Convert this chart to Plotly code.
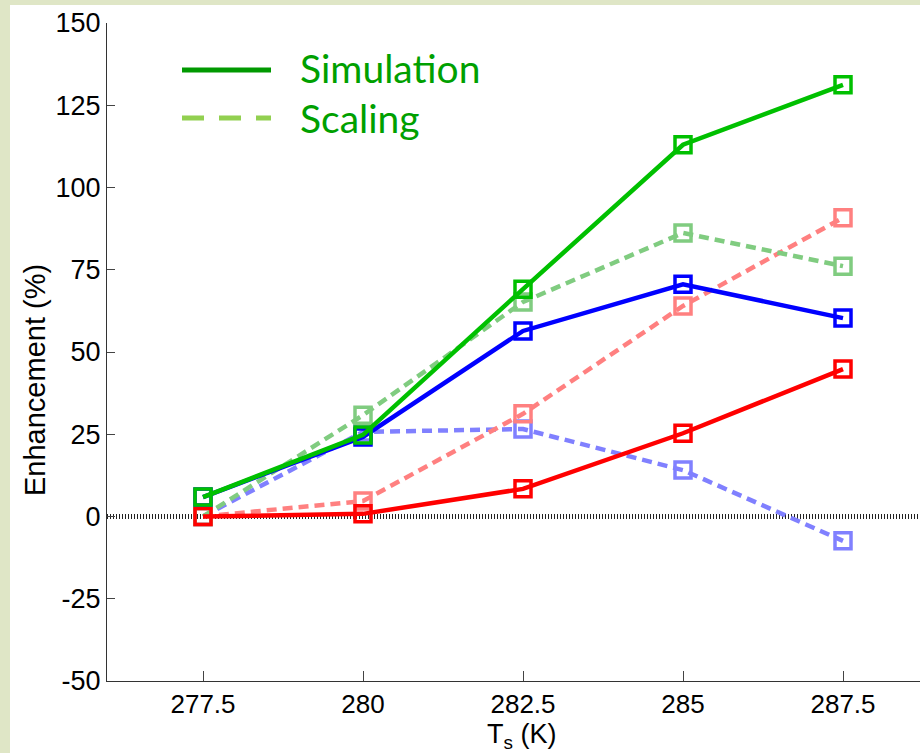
import plotly.graph_objects as go

ts = [277.5, 280, 282.5, 285, 287.5]
green_sim = [5.9, 24.8, 69.1, 113.0, 131.2]
green_scal = [0.0, 30.8, 65.2, 86.2, 76.1]
blue_sim = [5.9, 24.2, 56.4, 70.6, 60.3]
blue_scal = [0.0, 25.7, 26.6, 14.1, -7.4]
red_sim = [0.0, 0.8, 8.4, 25.3, 44.8]
red_scal = [0.0, 4.7, 31.2, 64.0, 90.8]

x_ticks = [277.5, 280, 282.5, 285, 287.5]
x_labels = ["277.5", "280", "282.5", "285", "287.5"]
y_ticks = [-50, -25, 0, 25, 50, 75, 100, 125, 150]
y_labels = ["-50", "-25", "0", "25", "50", "75", "100", "125", "150"]

W, H = 920, 753
ML, MR, MT, MB = 107, 0, 23, 72
PW, PH = W - ML - MR, H - MT - MB

def px(xp):
    return (xp - ML) / PW

def py(yp):
    return 1 - (yp - MT) / PH

fig = go.Figure()

series = [
    (blue_scal, "#8080ff", "10px,6px"),
    (red_scal, "#ff8080", "10px,6px"),
    (green_scal, "#80cc80", "10px,6px"),
    (red_sim, "#ff0000", "solid"),
    (blue_sim, "#0000ff", "solid"),
    (green_sim, "#00c000", "solid"),
]
for vals, col, dash in series:
    fig.add_trace(go.Scatter(
        x=ts, y=vals, mode="lines+markers",
        line=dict(color=col, width=4.5, dash=dash),
        marker=dict(symbol="square-open", size=16, color=col, line=dict(width=3.5, color=col)),
        showlegend=False, cliponaxis=False,
    ))

shapes = [
    dict(type="rect", xref="paper", yref="paper", x0=px(10), x1=px(930), y0=py(5), y1=py(760),
         fillcolor="white", line=dict(width=0), layer="below"),
    dict(type="line", xref="paper", yref="y", x0=0, x1=1, y0=0, y1=0,
         line=dict(color="#222222", width=5, dash="1px,2px"), layer="below"),
    dict(type="line", xref="paper", yref="paper", x0=px(182), x1=px(271), y0=py(70), y1=py(70),
         line=dict(color="#009900", width=5)),
    dict(type="line", xref="paper", yref="paper", x0=px(182), x1=px(271), y0=py(118), y1=py(118),
         line=dict(color="#92d050", width=5, dash="22px,15px")),
]

narrow = "Liberation Sans Narrow, Arial Narrow, Arial"
annotations = [
    dict(text="Simulation", xref="paper", yref="paper", x=px(298), y=py(68), xanchor="left",
         yanchor="middle", showarrow=False, font=dict(family="Lato, Open Sans", size=39, color="#00a000")),
    dict(text="Scaling", xref="paper", yref="paper", x=px(298), y=py(118), xanchor="left",
         yanchor="middle", showarrow=False, font=dict(family="Lato, Open Sans", size=39, color="#00a000")),
    dict(text="T<sub>s</sub> (K)", xref="paper", yref="paper", x=px(521), y=py(736), xanchor="center",
         yanchor="middle", showarrow=False, font=dict(family=narrow, size=27)),
    dict(text="Enhancement (%)", xref="paper", yref="paper", x=px(35), y=py(380), xanchor="center",
         yanchor="middle", textangle=-90, showarrow=False, font=dict(family=narrow, size=29)),
]

fig.update_layout(
    width=W, height=H,
    margin=dict(l=ML, r=MR, t=MT, b=MB),
    paper_bgcolor="#dfe6c6",
    plot_bgcolor="white",
    shapes=shapes,
    annotations=annotations,
    font=dict(family="Arial, Liberation Sans", size=20, color="black"),
    xaxis=dict(
        range=[276.0, 276.0 + PW / 64.0],
        tickvals=x_ticks, ticktext=x_labels, tickfont=dict(size=26),
        ticks="inside", ticklen=10, tickcolor="#444", showgrid=False, zeroline=False,
        showline=True, linecolor="#333", linewidth=1,
    ),
    yaxis=dict(
        range=[-50, 150], tickvals=y_ticks, ticktext=y_labels, tickfont=dict(size=27),
        ticks="inside", ticklen=8, tickcolor="#444", showgrid=False, zeroline=False,
        showline=True, linecolor="#333", linewidth=1,
    ),
)

fig.write_html("out.html")
